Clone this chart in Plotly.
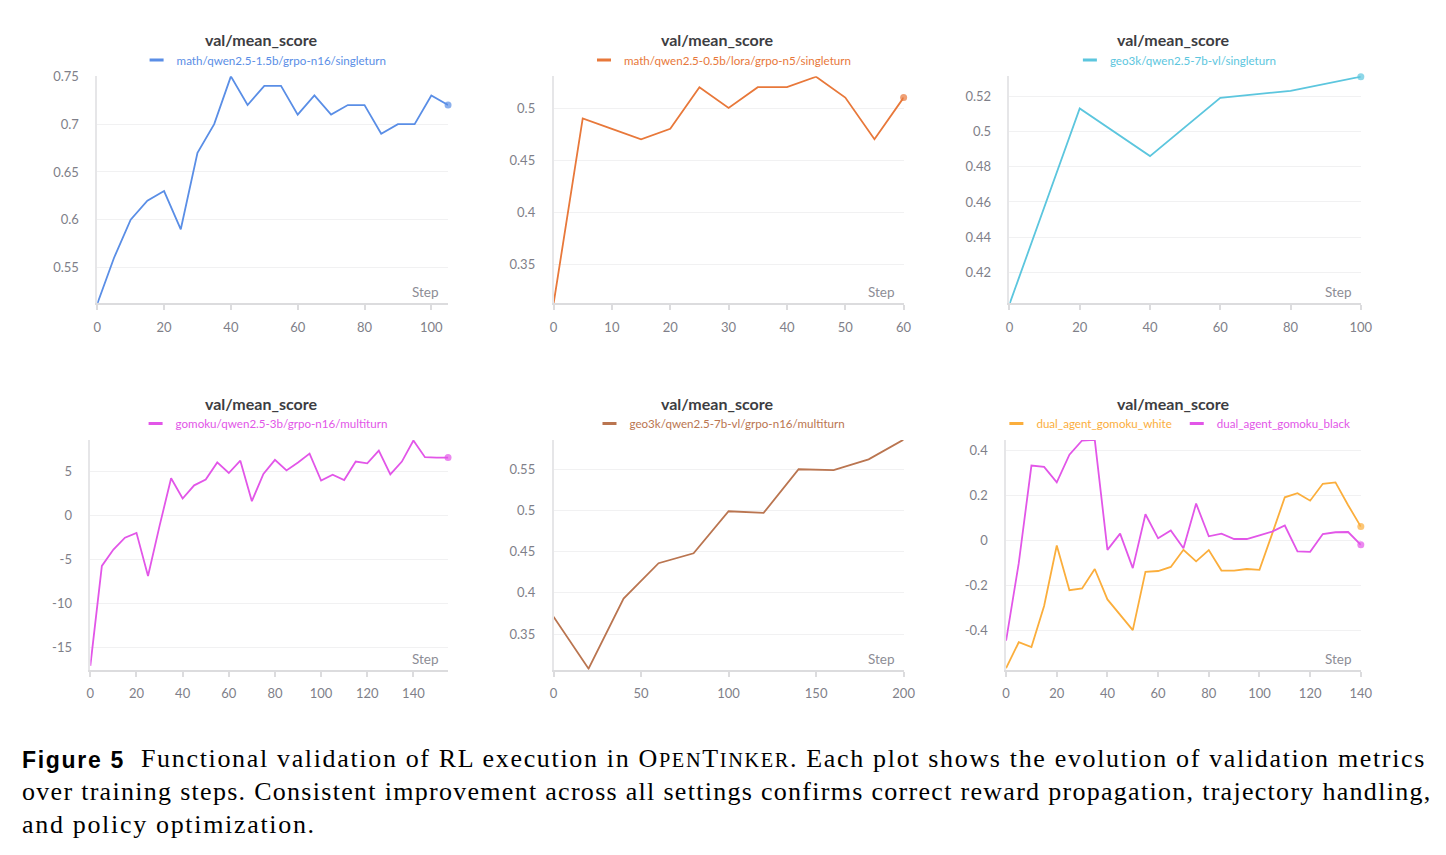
import plotly.graph_objects as go

W, H = 1446, 855


def px_x(p):
    return p / W


def px_y(p):
    return 1 - p / H


# ---------------- data ----------------
steps1 = [0, 5, 10, 15, 20, 25, 30, 35, 40, 45, 50, 55, 60, 65, 70, 75, 80, 85, 90, 95, 100, 105]
score1 = [0.512, 0.56, 0.60, 0.62, 0.63, 0.59, 0.67, 0.70, 0.75, 0.72, 0.74, 0.74, 0.71, 0.73,
          0.71, 0.72, 0.72, 0.69, 0.70, 0.70, 0.73, 0.72]

steps2 = [0, 5, 10, 15, 20, 25, 30, 35, 40, 45, 50, 55, 60]
score2 = [0.312, 0.49, 0.48, 0.47, 0.48, 0.52, 0.50, 0.52, 0.52, 0.53, 0.51, 0.47, 0.51]

steps3 = [0, 20, 40, 60, 80, 100]
score3 = [0.402, 0.513, 0.486, 0.519, 0.523, 0.531]

steps4 = [0, 5, 10, 15, 20, 25, 30, 35, 40, 45, 50, 55, 60, 65, 70, 75, 80, 85, 90, 95, 100,
          105, 110, 115, 120, 125, 130, 135, 140, 145, 150, 155]
score4 = [-17.1, -5.75, -3.9, -2.55, -2.0, -6.9, -1.2, 4.2, 1.9, 3.4, 4.05, 6.0, 4.8, 6.2, 1.6,
          4.7, 6.3, 5.1, 6.0, 7.0, 3.95, 4.6, 4.0, 6.1, 5.9, 7.35, 4.65, 6.1, 8.5, 6.6, 6.55, 6.55]

steps5 = [0, 20, 40, 60, 80, 100, 120, 140, 160, 180, 200]
score5 = [0.371, 0.308, 0.393, 0.436, 0.448, 0.499, 0.497, 0.550, 0.549, 0.562, 0.586]

steps6 = [0, 5, 10, 15, 20, 25, 30, 35, 40, 45, 50, 55, 60, 65, 70, 75, 80, 85, 90, 95, 100,
          105, 110, 115, 120, 125, 130, 135, 140]
score6_white = [-0.566, -0.451, -0.472, -0.290, -0.022, -0.220, -0.212, -0.126, -0.261, -0.327,
                -0.397, -0.139, -0.135, -0.117, -0.041, -0.092, -0.042, -0.133, -0.133, -0.126,
                -0.130, 0.03, 0.192, 0.21, 0.177, 0.252, 0.258, 0.157, 0.062]
score6_black = [-0.444, -0.10, 0.333, 0.327, 0.258, 0.381, 0.444, 0.447, -0.041, 0.031, -0.122,
                0.117, 0.010, 0.045, -0.034, 0.164, 0.019, 0.031, 0.007, 0.007, 0.023, 0.04,
                0.067, -0.048, -0.050, 0.029, 0.037, 0.038, -0.019]

names = {
    1: ["math/qwen2.5-1.5b/grpo-n16/singleturn"],
    2: ["math/qwen2.5-0.5b/lora/grpo-n5/singleturn"],
    3: ["geo3k/qwen2.5-7b-vl/singleturn"],
    4: ["gomoku/qwen2.5-3b/grpo-n16/multiturn"],
    5: ["geo3k/qwen2.5-7b-vl/grpo-n16/multiturn"],
    6: ["dual_agent_gomoku_white", "dual_agent_gomoku_black"],
}

xticks = {
    1: [0, 20, 40, 60, 80, 100],
    2: [0, 10, 20, 30, 40, 50, 60],
    3: [0, 20, 40, 60, 80, 100],
    4: [0, 20, 40, 60, 80, 100, 120, 140],
    5: [0, 50, 100, 150, 200],
    6: [0, 20, 40, 60, 80, 100, 120, 140],
}
yticks = {
    1: ([0.55, 0.6, 0.65, 0.7, 0.75], ["0.55", "0.6", "0.65", "0.7", "0.75"]),
    2: ([0.35, 0.4, 0.45, 0.5], ["0.35", "0.4", "0.45", "0.5"]),
    3: ([0.42, 0.44, 0.46, 0.48, 0.5, 0.52], ["0.42", "0.44", "0.46", "0.48", "0.5", "0.52"]),
    4: ([-15, -10, -5, 0, 5], ["-15", "-10", "-5", "0", "5"]),
    5: ([0.35, 0.4, 0.45, 0.5, 0.55], ["0.35", "0.4", "0.45", "0.5", "0.55"]),
    6: ([-0.4, -0.2, 0, 0.2, 0.4], ["-0.4", "-0.2", "0", "0.2", "0.4"]),
}
xranges = {1: [0, 105], 2: [0, 60], 3: [0, 100], 4: [0, 155], 5: [0, 200], 6: [0, 140]}
yranges = {1: [0.5127, 0.75], 2: [0.3126, 0.5304], 3: [0.4026, 0.5312],
           4: [-17.55, 8.56], 5: [0.3067, 0.5856], 6: [-0.573, 0.4466]}

colors = {1: ["#5A8EE6"], 2: ["#E8783A"], 3: ["#5CC6DE"], 4: ["#E256E8"], 5: ["#BA7550"],
          6: ["#FBAE3C", "#E256E8"]}

series = {
    1: [(steps1, score1)],
    2: [(steps2, score2)],
    3: [(steps3, score3)],
    4: [(steps4, score4)],
    5: [(steps5, score5)],
    6: [(steps6, score6_white), (steps6, score6_black)],
}

# ---------------- layout geometry (page pixels) ----------------
col_x = {1: (94.3, 449), 2: (555.7, 909.7), 3: (1016.7, 1372),
         4: (87.3, 449), 5: (555.7, 909.7), 6: (1013.3, 1372)}
row_y = {1: (69, 298), 2: (436, 668)}
title_cx = {1: 260, 2: 721, 3: 1182, 4: 260, 5: 721, 6: 1182}
title_y = {1: 32, 2: 399}
legend_y = {1: 52.5, 2: 419.5}

FONT = "Lato"
TICK_COLOR = "#7f7f89"

fig = go.Figure()
layout = dict(
    width=W, height=H, margin=dict(l=0, r=0, t=0, b=0),
    paper_bgcolor="white", plot_bgcolor="white",
    font=dict(family=FONT, color=TICK_COLOR),
    showlegend=True,
    annotations=[],
)

for i in range(1, 7):
    row = 1 if i <= 3 else 2
    sfx = "" if i == 1 else str(i)
    x0, x1 = col_x[i]
    ytop, ybot = row_y[row]
    lg = "legend" if i == 1 else f"legend{i}"
    for k, (xs, ys) in enumerate(series[i]):
        c = colors[i][k]
        sizes = [0] * (len(xs) - 1) + [7]
        fig.add_trace(go.Scatter(
            x=xs, y=ys, mode="lines+markers",
            line=dict(color=c, width=1.8),
            marker=dict(size=sizes, color=c, line=dict(width=0)),
            cliponaxis=False, showlegend=False, hoverinfo="skip",
            xaxis="x" + sfx, yaxis="y" + sfx,
        ))
        fig.add_trace(go.Scatter(
            x=[None], y=[None], mode="markers",
            marker=dict(symbol="line-ew", size=10, color=c, line=dict(width=3, color=c)),
            name=f"<span style='color:{c}'>{names[i][k]}</span>",
            legend=lg, xaxis="x" + sfx, yaxis="y" + sfx,
        ))
    layout["xaxis" + sfx] = dict(
        domain=[px_x(x0), px_x(x1)], range=xranges[i], anchor="y" + sfx,
        showgrid=False, zeroline=False, showline=True, linecolor="#dcdcde", linewidth=2,
        ticks="outside", ticklen=5, tickwidth=1.5, tickcolor="#dcdcde",
        tickvals=xticks[i], ticktext=[str(v) for v in xticks[i]],
        tickfont=dict(size=13, color=TICK_COLOR, family=FONT), ticklabelstandoff=6,
        fixedrange=True,
    )
    tv, tt = yticks[i]
    layout["yaxis" + sfx] = dict(
        domain=[px_y(ybot), px_y(ytop)], range=yranges[i], anchor="x" + sfx,
        showgrid=True, gridcolor="#f1f1f2", gridwidth=1, zeroline=False,
        showline=True, linecolor="#e6e6e8", linewidth=1.5, ticks="",
        tickvals=tv, ticktext=tt,
        tickfont=dict(size=13, color=TICK_COLOR, family=FONT), ticklabelstandoff=14,
        fixedrange=True,
    )
    layout[lg] = dict(
        x=px_x(title_cx[i] + 3), xanchor="center", y=px_y(legend_y[row]), yanchor="middle",
        orientation="h", bgcolor="rgba(0,0,0,0)", borderwidth=0,
        font=dict(size=11.6, family=FONT), itemwidth=30, tracegroupgap=0,
    )
    layout["annotations"].append(dict(
        text="<b>val/mean_score</b>", xref="paper", yref="paper",
        x=px_x(title_cx[i]), y=px_y(title_y[row]), xanchor="center", yanchor="middle",
        showarrow=False, font=dict(size=16, color="#3d3d42", family=FONT),
    ))
    layout["annotations"].append(dict(
        text="Step", xref=f"x{sfx} domain", yref=f"y{sfx} domain", x=1, y=0,
        xanchor="right", yanchor="bottom", xshift=-7, yshift=1, showarrow=False,
        font=dict(size=13.5, color="#8d8d95", family=FONT),
    ))

# ---------------- caption ----------------
SERIF = "Liberation Serif"
CAP = 26


def smallcaps(size):
    return f"<span style='font-size:{size*0.78:.1f}px'>"


# (left px, centre px, letter spacing px, text)
caption_lines = [
    (137, 758, 1.66, "Functional validation of RL execution in O{sc}PEN</span>T{sc}INKER</span>. Each plot shows the evolution of validation metrics"),
    (16, 791, 1.29, "over training steps. Consistent improvement across all settings confirms correct reward propagation, trajectory handling,"),
    (16, 824, 1.68, "and policy optimization."),
]
layout["annotations"].append(dict(
    text="<span style='letter-spacing:1.7px'><b>Figure 5</b></span>", xref="paper", yref="paper",
    x=px_x(16), y=px_y(759), xanchor="left", yanchor="middle", showarrow=False,
    font=dict(size=23, color="black", family="Liberation Sans"),
))
for (px, py, ls, t) in caption_lines:
    layout["annotations"].append(dict(
        text=f"<span style='letter-spacing:{ls}px'>" + t.replace("{sc}", smallcaps(CAP)) + "</span>",
        xref="paper", yref="paper",
        x=px_x(px), y=px_y(py), xanchor="left", yanchor="middle", showarrow=False,
        font=dict(size=CAP, color="black", family=SERIF),
    ))

fig.update_layout(**layout)
fig.write_html("out.html")
